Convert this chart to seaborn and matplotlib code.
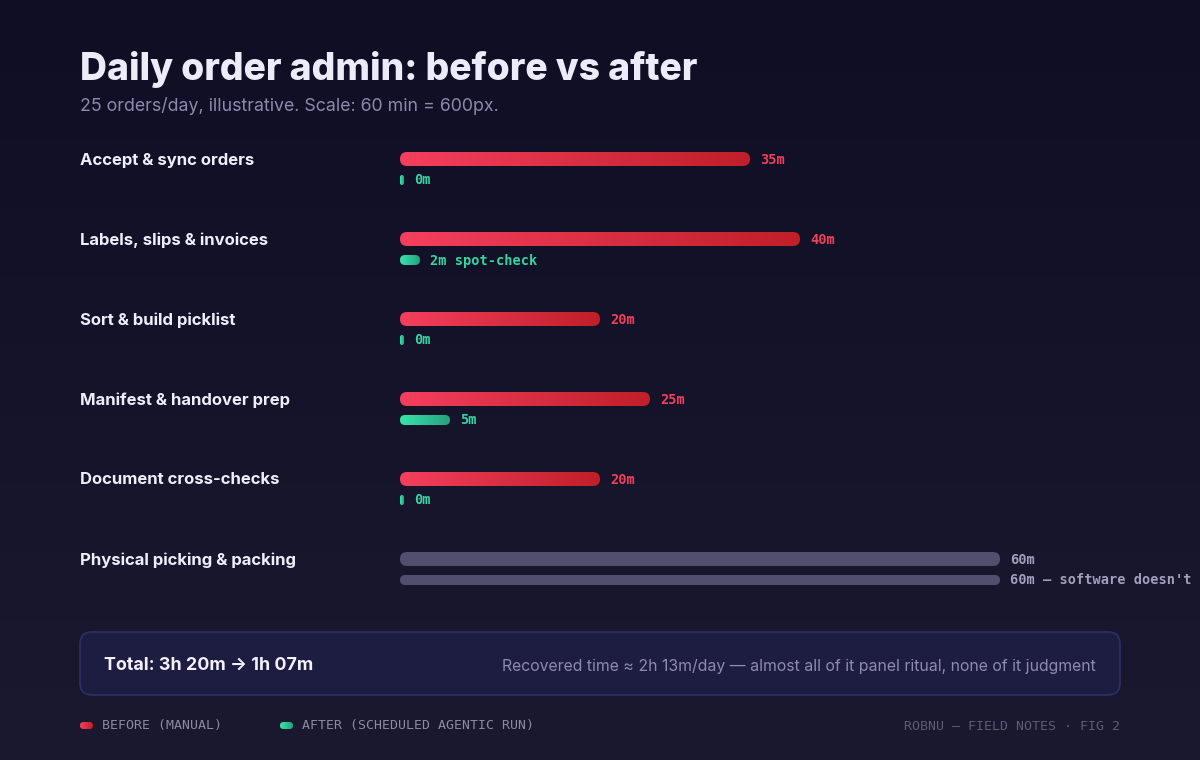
import numpy as np
import pandas as pd
import matplotlib
matplotlib.use("Agg")
import matplotlib.pyplot as plt
import seaborn as sns
from matplotlib.patches import FancyBboxPatch
from matplotlib.colors import LinearSegmentedColormap

# ---------------- data ----------------
categories = [
    "Accept & sync orders",
    "Labels, slips & invoices",
    "Sort & build picklist",
    "Manifest & handover prep",
    "Document cross-checks",
    "Physical picking & packing",
]
before_min = [35, 40, 20, 25, 20, 60]
after_min = [0, 2, 0, 5, 0, 60]
after_notes = ["", " spot-check", "", "", "", " — software doesn't"]
physical_row = [False, False, False, False, False, True]

title = "Daily order admin: before vs after"
subtitle = "25 orders/day, illustrative. Scale: 60 min = 600px."
total_text = "Total: 3h 20m → 1h 07m"
recovered_text = "Recovered time ≈ 2h 13m/day — almost all of it panel ritual, none of it judgment"
legend_labels = ["BEFORE (MANUAL)", "AFTER (SCHEDULED AGENTIC RUN)"]
credit = "ROBNU — FIELD NOTES · FIG 2"

# ---------------- style ----------------
W, H = 1200, 760
sns.set_theme(style="white")
plt.rcParams["font.family"] = ["Inter", "DejaVu Sans"]
MONO = ["DejaVu Sans Mono"]

RED_L, RED_R = "#f53f5e", "#c01f28"
TEAL_L, TEAL_R = "#3ae4ac", "#23a27d"
GREY_BAR = "#514f6e"
RED_TXT, TEAL_TXT, GREY_TXT = "#f0405a", "#34d6a0", "#a09fbd"

cm_red = LinearSegmentedColormap.from_list("red", [RED_L, RED_R])
cm_teal = LinearSegmentedColormap.from_list("teal", [TEAL_L, TEAL_R])

fig = plt.figure(figsize=(12, 7.6), dpi=100)

# background gradient
bg = fig.add_axes([0, 0, 1, 1])
bg.set_zorder(-10)
bg.axis("off")
cm_bg = LinearSegmentedColormap.from_list("bg", ["#0f0e24", "#1a192f"])
bg.imshow(np.linspace(0, 1, 256).reshape(-1, 1), aspect="auto", cmap=cm_bg,
          extent=[0, 1, 0, 1], origin="upper")

# bar axes: 60 min = 600 px starting at x=400
row_top, row_h = 129.5, 80
n = len(categories)
ax = fig.add_axes([400 / W, 1 - (row_top + n * row_h) / H, 600 / W, n * row_h / H])
df = pd.DataFrame({
    "category": categories * 2,
    "phase": ["before"] * n + ["after"] * n,
    "minutes": before_min + after_min,
})
sns.barplot(data=df, x="minutes", y="category", hue="phase", order=categories,
            hue_order=["before", "after"], orient="h", width=0.525, dodge=True,
            errorbar=None, legend=False, ax=ax)
ax.set_xlim(0, 60)
ax.set_ylim(n - 0.5, -0.5)
ax.axis("off")
ax.patch.set_alpha(0)

# overlay axes in pixel coordinates
ov = fig.add_axes([0, 0, 1, 1])
ov.set_xlim(0, W)
ov.set_ylim(H, 0)
ov.axis("off")
ov.patch.set_alpha(0)
ov.set_zorder(2)

bars = []
for p in ax.patches:
    x0, y0, w, h = p.get_x(), p.get_y(), p.get_width(), p.get_height()
    if h == 0:
        continue
    yc = y0 + h / 2
    row = int(round(yc))
    phase = "before" if yc < row else "after"
    (dx0, dy), (dx1, _) = ax.transData.transform([[x0, yc], [x0 + w, yc]])
    bars.append((row, phase, dx0, dx1, H - dy))
    p.set_visible(False)

for row, phase, px0, px1, yc in bars:
    hh = 14 if phase == "before" else 10
    ww = max(px1 - px0, 4)
    r = min(hh / 2, ww / 2)
    phys = physical_row[row]
    box = FancyBboxPatch((px0, yc - hh / 2), ww, hh,
                         boxstyle=f"round,pad=0,rounding_size={r}",
                         fc=GREY_BAR if phys else "none", ec="none", zorder=3)
    ov.add_patch(box)
    if not phys:
        cm = cm_red if phase == "before" else cm_teal
        im = ov.imshow(np.linspace(0, 1, 256).reshape(1, -1), cmap=cm, aspect="auto",
                       extent=[px0, px0 + ww, yc + hh / 2, yc - hh / 2], zorder=3)
        im.set_clip_path(box)
    if phase == "before":
        label = f"{before_min[row]}m"
        col = GREY_TXT if phys else RED_TXT
    else:
        label = f"{after_min[row]}m{after_notes[row]}"
        col = GREY_TXT if phys else TEAL_TXT
    ov.text(px0 + ww + 10, yc + 0.5, label, ha="left", va="center", family=MONO,
            fontsize=9.8, weight="bold", color=col, zorder=4, clip_on=False)
    if phase == "before":
        ov.text(80, yc + 1, categories[row], ha="left", va="center", fontsize=12,
                weight="bold", color="#eeeef8", zorder=4)

ov.set_xlim(0, W)
ov.set_ylim(H, 0)

# title
ov.text(80, 70, title, ha="left", va="center", fontsize=26.8, weight="heavy", color="#ecebf8")
ov.text(80, 106, subtitle, ha="left", va="center", fontsize=12.8, color="#8b8aad")

# total panel
panel = FancyBboxPatch((80, 632), 1040, 63, boxstyle="round,pad=0,rounding_size=12",
                       fc="#1d1c41", ec="#2e2d62", lw=1.3, zorder=1)
ov.add_patch(panel)
ov.text(104, 665, total_text, ha="left", va="center", fontsize=12.9, weight="bold",
        color="#f2f1fb", zorder=4)
ov.text(1096, 666, recovered_text, ha="right", va="center", fontsize=11.4,
        color="#8d8cae", zorder=4)

# legend
for lx, cm, lab in [(80, cm_red, legend_labels[0]), (280, cm_teal, legend_labels[1])]:
    pill = FancyBboxPatch((lx, 722), 13, 7, boxstyle="round,pad=0,rounding_size=3.5",
                          fc="none", ec="none", zorder=3)
    ov.add_patch(pill)
    im = ov.imshow(np.linspace(0, 1, 64).reshape(1, -1), cmap=cm, aspect="auto",
                   extent=[lx, lx + 13, 729, 722], zorder=3)
    im.set_clip_path(pill)
    ov.text(lx + 22, 726, lab, ha="left", va="center", family=MONO, fontsize=9.5,
            color="#8a89a6")
ov.text(1120, 726, credit, ha="right", va="center", family=MONO, fontsize=9.5,
        color="#5c5b7a")

ov.set_xlim(0, W)
ov.set_ylim(H, 0)

fig.savefig("out.png", dpi=100)
